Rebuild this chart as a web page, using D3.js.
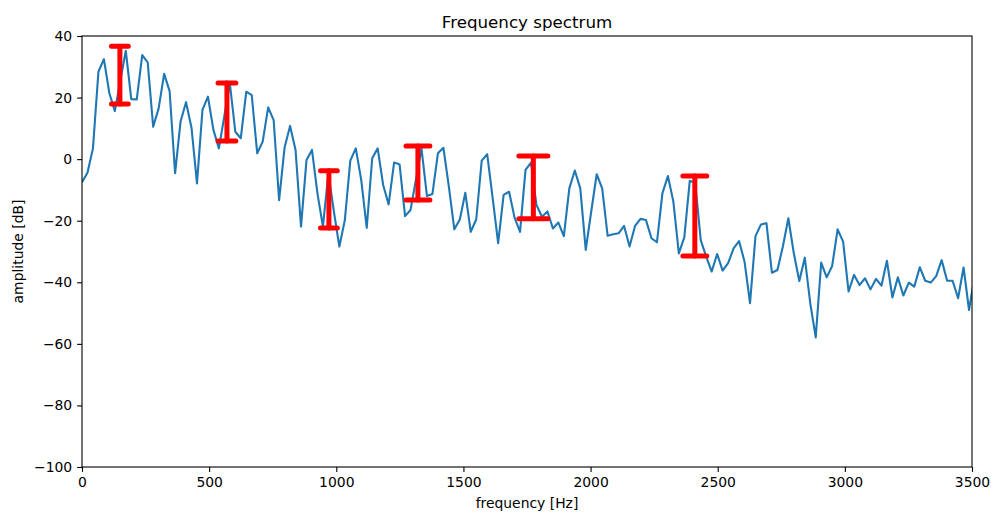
<!DOCTYPE html>
<html>
<head>
<meta charset="utf-8">
<script src="https://cdn.jsdelivr.net/npm/d3@7"></script>
<style>
  body { margin: 0; background: #fff; }
  text { font-family: "DejaVu Sans", sans-serif; fill: #000; }
  .tick text { font-size: 13.9px; }
  .domain { display: none; }
</style>
</head>
<body>
<div class="chart"></div>
<script>
// FFT bin spacing (44.1 kHz, 2048 points)
var binHz = 44100 / 2048;

// amplitude of each bin, dB
var amplitudes = [
  -7.5, -4.4, 3.5, 28.4, 32.5, 21.4, 15.6, 25.5, 35.2, 19.5,
  19.4, 33.8, 31.4, 10.5, 16.5, 27.7, 22.1, -4.6, 12.2, 18.5,
  10.2, -7.9, 16, 20.3, 9.5, 3.5, 14, 24.6, 8.9, 6.8,
  21.9, 20.8, 1.9, 5.7, 16.8, 12.7, -13.3, 3.8, 10.8, 3,
  -21.9, -0.3, 3, -11.1, -21.9, -4.6, -17, -28.4, -19.8, -0.5,
  3.5, -6.8, -22.3, 0.3, 3.5, -8.4, -14.7, -1.1, -1.7, -18.5,
  -16.5, -6.5, 3.5, -12, -11.3, 1.9, 3.7, -8.9, -22.8, -19.6,
  -10.9, -23.6, -19.6, -0.5, 1.6, -12.7, -27.3, -11.6, -10.6, -19,
  -23.6, -3.5, -1.1, -14.9, -18.7, -17, -22.5, -20.6, -25, -9.5,
  -3.7, -9.5, -29.5, -17, -4.9, -9.5, -24.9, -24.4, -24.1, -21.7,
  -28.4, -21.7, -19.4, -19.8, -25.7, -27, -11.1, -5.5, -13.8, -30.6,
  -25.4, -7, -7.8, -26.3, -31.7, -36.5, -30.8, -36.2, -33.8, -29,
  -26.6, -33.3, -46.8, -25, -21.2, -20.8, -36.9, -36, -28.4, -19.2,
  -30.6, -39.6, -32, -46.8, -57.9, -33.6, -38.4, -34.7, -22.8, -26.8,
  -43, -37.6, -40.9, -38.7, -42.3, -38.9, -41.1, -33, -44.9, -38.4,
  -44.3, -40.1, -41.4, -35.1, -39.5, -40.1, -38, -32.8, -39.5, -39.5,
  -45.2, -35.2, -49, -38
];

// red range markers
var markerFreq = [149, 570, 971, 1321, 1775, 2410];
var markerTop = [36.7, 24.7, -3.8, 4.3, 1.0, -5.5];
var markerBottom = [17.9, 5.9, -22.4, -13.3, -19.4, -31.5];
var markerHalfWidth = [33, 35, 33, 47, 57, 47]; // Hz

// ticks
var xTicks = [0, 500, 1000, 1500, 2000, 2500, 3000, 3500];
var yTicks = [40, 20, 0, -20, -40, -60, -80, -100];

var data = amplitudes.map(function(a, i) {
  return {freq: i * binHz, amp: a};
});

// dimensions
var margin = {top: 36, right: 19, bottom: 46, left: 82};
var width = 991 - margin.left - margin.right;
var height = 513 - margin.top - margin.bottom;

var x = d3.scaleLinear().domain([0, 3500]).range([0, width]);
var y = d3.scaleLinear().domain([-100, 40]).range([height, 0]);

var svg = d3.select(".chart")
  .append("svg")
  .attr("width", 991)
  .attr("height", 513);

svg.append("defs").append("clipPath")
  .attr("id", "clip")
  .append("rect")
  .attr("width", width)
  .attr("height", height);

var chart = svg.append("g")
  .attr("transform", "translate(" + margin.left + "," + margin.top + ")");

var fmt = function(d) { return d < 0 ? "\u2212" + Math.abs(d) : d; };

// axes
chart.append("g")
  .attr("transform", "translate(0," + height + ")")
  .call(d3.axisBottom(x).tickValues(xTicks).tickSize(4.9).tickPadding(4.9).tickFormat(fmt))
  .call(function(g) { g.selectAll("line").attr("stroke-width", 1.1); });
chart.append("g")
  .call(d3.axisLeft(y).tickValues(yTicks).tickSize(4.9).tickPadding(4.9).tickFormat(fmt))
  .call(function(g) { g.selectAll("line").attr("stroke-width", 1.1); });

// spectrum line
var line = d3.line()
  .x(function(d) { return x(d.freq); })
  .y(function(d) { return y(d.amp); });

chart.append("path")
  .datum(data)
  .attr("clip-path", "url(#clip)")
  .attr("fill", "none")
  .attr("stroke", "#1f77b4")
  .attr("stroke-width", 2.1)
  .attr("stroke-linejoin", "round")
  .attr("d", line);

// red markers
var markers = chart.append("g")
  .attr("stroke", "#ff0000")
  .attr("stroke-width", 5)
  .attr("stroke-linecap", "round");

markerFreq.forEach(function(f, i) {
  markers.append("line")
    .attr("x1", x(f)).attr("x2", x(f))
    .attr("y1", y(markerTop[i])).attr("y2", y(markerBottom[i]));
  [markerTop[i], markerBottom[i]].forEach(function(v) {
    markers.append("line")
      .attr("x1", x(f - markerHalfWidth[i])).attr("x2", x(f + markerHalfWidth[i]))
      .attr("y1", y(v)).attr("y2", y(v));
  });
});

// frame
chart.append("rect")
  .attr("width", width)
  .attr("height", height)
  .attr("fill", "none")
  .attr("stroke", "#000")
  .attr("stroke-width", 1.1);

// labels
chart.append("text")
  .attr("x", width / 2)
  .attr("y", -8.5)
  .attr("text-anchor", "middle")
  .style("font-size", "16.7px")
  .text("Frequency spectrum");

chart.append("text")
  .attr("x", width / 2)
  .attr("y", height + 41)
  .attr("text-anchor", "middle")
  .style("font-size", "13.9px")
  .text("frequency [Hz]");

chart.append("text")
  .attr("transform", "rotate(-90)")
  .attr("x", -height / 2)
  .attr("y", -59)
  .attr("text-anchor", "middle")
  .style("font-size", "13.9px")
  .text("amplitude [dB]");
</script>
</body>
</html>
